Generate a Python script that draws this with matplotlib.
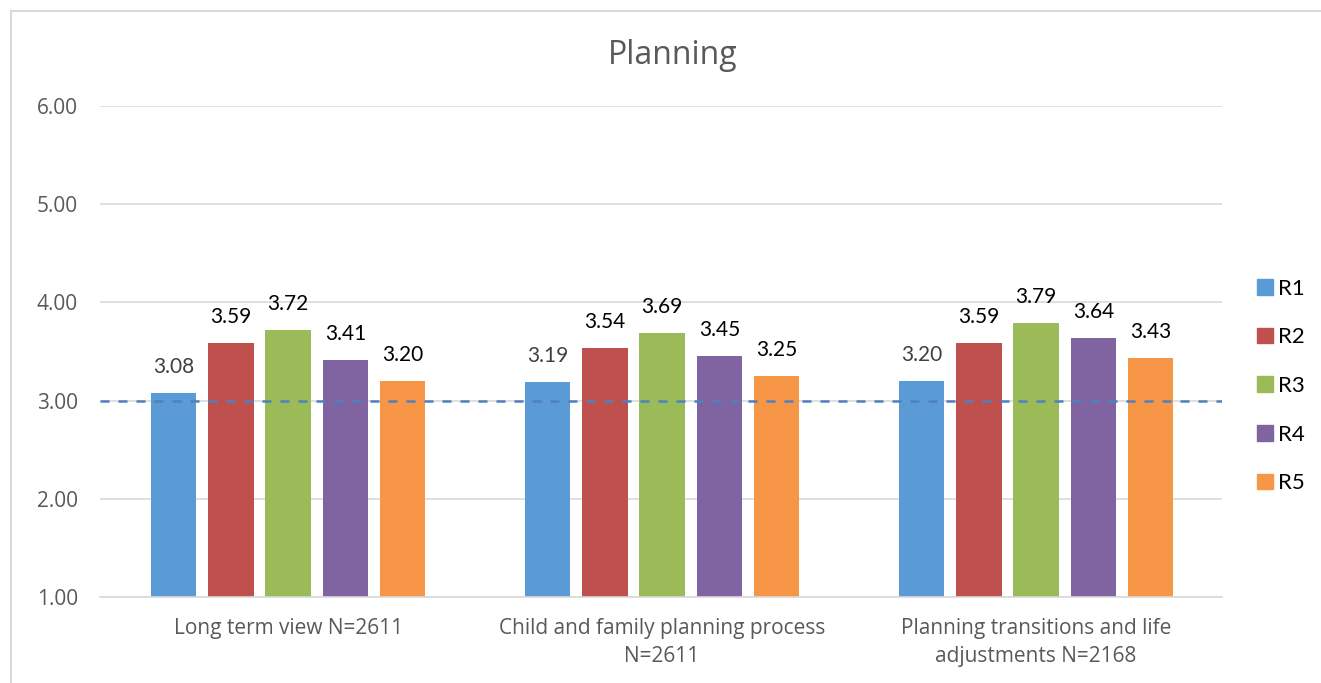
import matplotlib
matplotlib.use("Agg")
import matplotlib.pyplot as plt
from matplotlib.lines import Line2D
import numpy as np

categories = ["Long term view N=2611",
              "Child and family planning process\nN=2611",
              "Planning transitions and life\nadjustments N=2168"]
series = ["R1", "R2", "R3", "R4", "R5"]
r1 = [3.08, 3.19, 3.20]
r2 = [3.59, 3.54, 3.59]
r3 = [3.72, 3.69, 3.79]
r4 = [3.41, 3.45, 3.64]
r5 = [3.20, 3.25, 3.43]
reference_level = 3.0
yticks = [1.0, 2.0, 3.0, 4.0, 5.0, 6.0]

colors = ["#5B9BD5", "#C0504D", "#9BBB59", "#8064A2", "#F79646"]
values = [r1, r2, r3, r4, r5]

W, H = 1321, 683
fig = plt.figure(figsize=(W / 100, H / 100), dpi=100)

# outer chart frame
fig.add_artist(Line2D([11 / W, 11 / W], [0, 1 - 11 / H], color="#d9d9d9", lw=1.5))
fig.add_artist(Line2D([11 / W, 1], [1 - 11 / H, 1 - 11 / H], color="#d9d9d9", lw=1.5))

left, right = 100 / W, 1222 / W
bottom, top = 1 - 597 / H, 1 - 106 / H
ax = fig.add_axes([left, bottom, right - left, top - bottom])

x = np.arange(len(categories))
width = 0.121
pitch = 0.153
for i, (name, vals, c) in enumerate(zip(series, values, colors)):
    pos = x + (i - 2) * pitch
    ax.bar(pos, [v - 1.0 for v in vals], bottom=1.0, width=width, color=c,
           label=name, zorder=2)
    lc = "#404040" if i == 0 else "#000000"
    for px, v in zip(pos, vals):
        ax.text(px, v + 0.265, f"{v:.2f}", ha="center", va="center",
                fontsize=15, family="Lato", color=lc, zorder=4)

ax.axhline(reference_level, color="#4F81BD", lw=1.8, dashes=(3.6, 3.6), zorder=3)

ax.set_xlim(-0.503, 2.497)
ax.set_ylim(1.0, 6.0)
ax.set_yticks(yticks)
ax.set_yticklabels([f"{t:.2f}" for t in yticks], family="Open Sans",
                   fontsize=15, color="#595959")
ax.yaxis.grid(True, color="#d9d9d9", lw=1.2, zorder=0)
ax.set_axisbelow(True)
ax.tick_params(axis="y", length=0, pad=16)
ax.tick_params(axis="x", length=0, pad=15)
ax.set_xticks(x)
ax.set_xticklabels(categories, family="Open Sans", fontsize=15, color="#595959",
                   linespacing=1.45)
for s in ["top", "right", "left"]:
    ax.spines[s].set_visible(False)
ax.spines["bottom"].set_color("#d9d9d9")
ax.spines["bottom"].set_linewidth(1.2)

fig.text(673 / W, 1 - 55 / H, "Planning", ha="center", va="center",
         family="Open Sans", fontsize=23, color="#595959")

handles = [plt.Rectangle((0, 0), 1, 1, color=c) for c in colors]
fig.legend(handles, series, loc="center left", bbox_to_anchor=(1237 / W, 1 - 386 / H),
           frameon=False, prop={"family": "Lato", "size": 16},
           handlelength=0.7, handleheight=0.7, labelspacing=1.29, handletextpad=0.25)

fig.savefig("out.png", dpi=100)
